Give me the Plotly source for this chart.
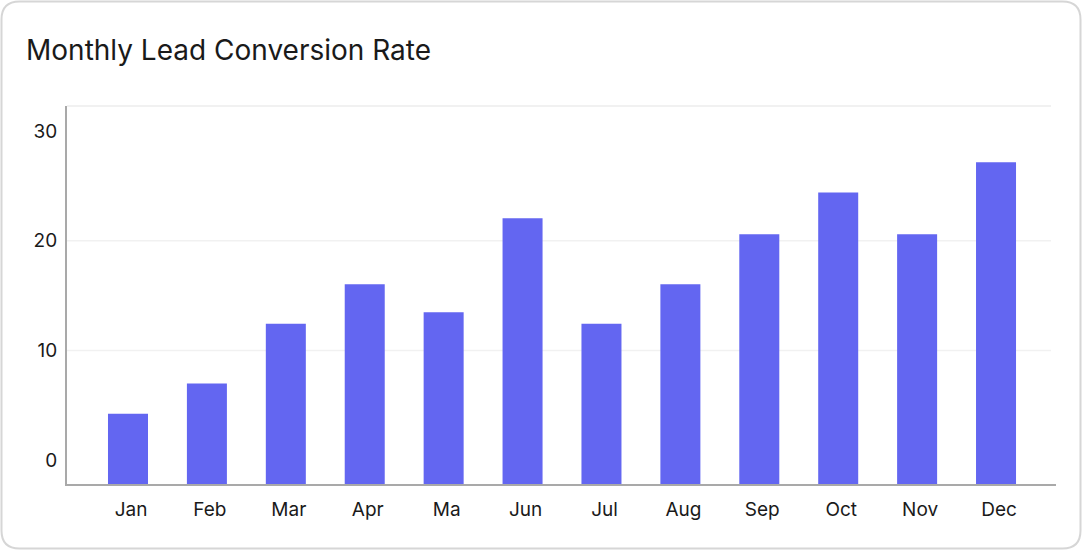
import plotly.graph_objects as go

months = ["Jan", "Feb", "Mar", "Apr", "Ma", "Jun", "Jul", "Aug", "Sep", "Oct", "Nov", "Dec"]
rates = [4.25, 7.0, 12.45, 16.05, 13.5, 22.05, 12.45, 16.05, 20.6, 24.4, 20.6, 27.15]
y_ticks = [0, 10, 20, 30]
grid_vals = [10, 20]

W, H = 1082, 550
L, R, T, B = 67, 1056, 106, 484  # plot area pixels
y_min, y_max = -2.15, 32.27
x_min, x_max = -0.773, 11.76

def px(x):
    return (x - L) / (R - L)

def py(y):
    return (B - y) / (B - T)

fig = go.Figure()
fig.add_trace(go.Bar(
    x=list(range(len(months))),
    y=[v - y_min for v in rates],
    base=[y_min] * len(rates),
    width=0.507,
    marker=dict(color="#6366f1", line=dict(width=0)),
    hoverinfo="skip",
))

shapes = []
# card border (rounded)
x0, x1, y0, y1, r = 1.5, W - 1.5, 1.5, H - 1.5, 18
path = (
    f"M {px(x0 + r)},{py(y0)} L {px(x1 - r)},{py(y0)} "
    f"Q {px(x1)},{py(y0)} {px(x1)},{py(y0 + r)} "
    f"L {px(x1)},{py(y1 - r)} Q {px(x1)},{py(y1)} {px(x1 - r)},{py(y1)} "
    f"L {px(x0 + r)},{py(y1)} Q {px(x0)},{py(y1)} {px(x0)},{py(y1 - r)} "
    f"L {px(x0)},{py(y0 + r)} Q {px(x0)},{py(y0)} {px(x0 + r)},{py(y0)} Z"
)
shapes.append(dict(type="path", xref="paper", yref="paper", path=path,
                   line=dict(color="#d6d6d6", width=2), fillcolor="rgba(0,0,0,0)", layer="below"))
# gridlines
for g in grid_vals:
    shapes.append(dict(type="line", xref="paper", yref="y", x0=0, x1=px(1051), y0=g, y1=g,
                       line=dict(color="#f1f1f1", width=1.5), layer="below"))
shapes.append(dict(type="line", xref="paper", yref="paper", x0=0, x1=px(1051), y0=1, y1=1,
                   line=dict(color="#f1f1f1", width=2), layer="below"))

fig.update_layout(
    width=W, height=H,
    margin=dict(l=L, r=W - R, t=T, b=H - B, pad=0),
    paper_bgcolor="white", plot_bgcolor="white",
    font=dict(family="Inter, sans-serif", size=19, color="#1a1a1a"),
    title=dict(text="Monthly Lead Conversion Rate", x=26 / W, xanchor="left",
               y=1 - 50 / H, yanchor="middle", xref="container", yref="container",
               font=dict(size=28, color="#1a1a1a")),
    showlegend=False,
    shapes=shapes,
    xaxis=dict(range=[x_min, x_max], tickmode="array", tickvals=list(range(len(months))),
               ticktext=months, showgrid=False, zeroline=False, showline=True,
               linecolor="#a9a9a9", linewidth=2, ticks="outside", ticklen=7,
               tickcolor="rgba(0,0,0,0)", tickfont=dict(size=19), ticklabelshift=3),
    yaxis=dict(range=[y_min, y_max], tickmode="array", tickvals=y_ticks,
               showgrid=False, zeroline=False, showline=True,
               linecolor="#a9a9a9", linewidth=2, ticks="outside", ticklen=4,
               tickcolor="rgba(0,0,0,0)", tickfont=dict(size=19)),
)

fig.write_html("out.html", config={"displayModeBar": False},
               post_script="document.body.style.margin='0';document.body.style.overflow='hidden';")
